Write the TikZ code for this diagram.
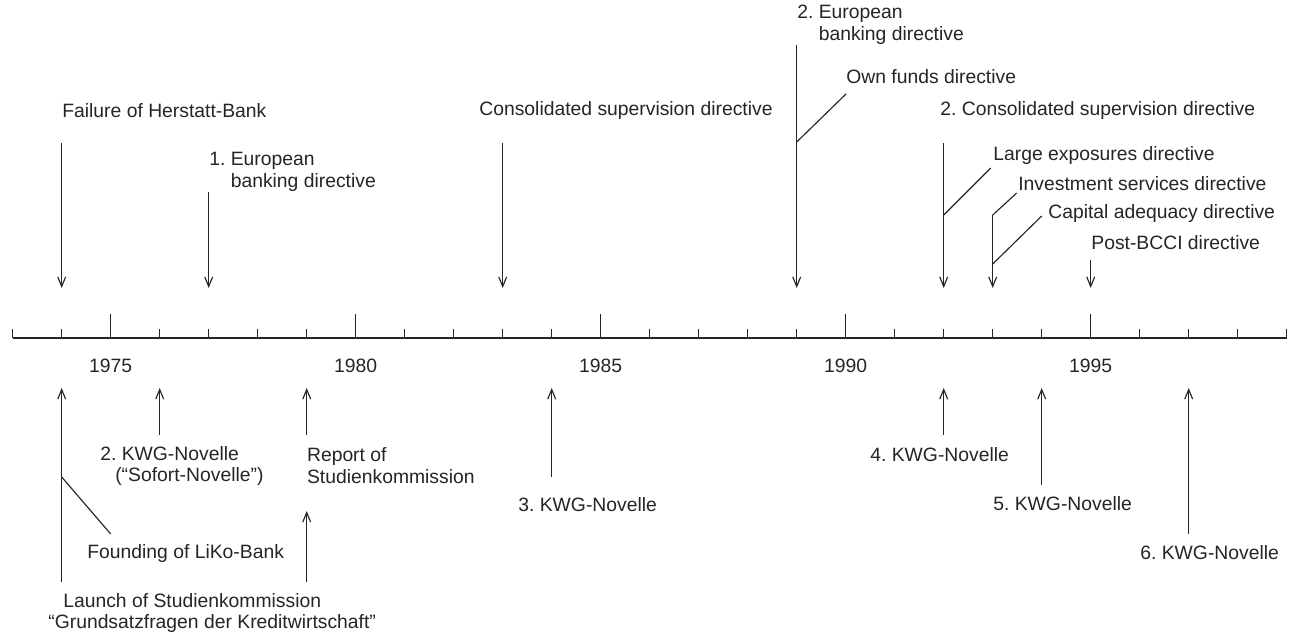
\documentclass[tikz,border=0pt]{standalone}
\usepackage{fontspec}
\setmainfont{Liberation Sans}
\usetikzlibrary{arrows.meta}
\definecolor{inkgray}{RGB}{38,36,36}
\tikzset{
  lbl/.style={anchor=west,inner sep=0pt,align=left,text=inkgray,font=\fontsize{11}{12.5}\selectfont},
  evt/.style={draw=inkgray,line width=0.65pt,-{Straight Barb[length=5.5pt,width=4.5pt]}},
  lead/.style={draw=inkgray,line width=0.65pt},
}

\begin{document}
\begin{tikzpicture}[x=0.02cm,y=-0.02cm]
\useasboundingbox (0,0) rectangle (1291,639);

% time axis
\draw[inkgray,line width=0.8pt] (12.7,338) -- (1286.7,338);
\foreach \yr in {1973,...,1999}
         {
\coordinate (up\yr) at ({12.7+(\yr-1973)*49},288);
\coordinate (dn\yr) at ({12.7+(\yr-1973)*49},388);
\draw[inkgray,line width=0.8pt] ({12.7+(\yr-1973)*49},338) -- ++(0,-9);
}
\foreach \yr in {1975,1980,...,1995}
         {
\draw[inkgray,line width=0.8pt] ({12.7+(\yr-1973)*49},338) -- ++(0,-24);
\node[lbl,anchor=center] (year\yr) at ({12.7+(\yr-1973)*49},366) {\yr};
}

% events above the axis
\node[lbl] (herstatt) at (62,111) {Failure of Herstatt-Bank};
\node[lbl] (ebd1) at (209,172) {1.\ European\\\hspace*{12.2pt}banking directive};
\node[lbl] (consol) at (479,111) {Consolidated supervision directive};
\node[lbl] (ebd2) at (797,25) {2.\ European\\\hspace*{12.2pt}banking directive};
\node[lbl] (ownfunds) at (846,77) {Own funds directive};
\node[lbl] (consol2) at (940,111) {2.\ Consolidated supervision directive};
\node[lbl] (largeexp) at (993,156) {Large exposures directive};
\node[lbl] (invserv) at (1018,184) {Investment services directive};
\node[lbl] (capadeq) at (1048,213) {Capital adequacy directive};
\node[lbl] (postbcci) at (1091,243) {Post-BCCI directive};

\foreach \yr/\ys in {1974/143,1977/192,1983/143,1989/45,1992/143,1993/215,1995/260}
  \draw[evt] (up\yr) ++(0,{\ys-288}) -- (up\yr);

\coordinate (br1989) at (796.7,142);
\coordinate (br1992) at (943.7,215);
\coordinate (br1993a) at (992.7,215);
\coordinate (br1993b) at (992.7,264);
\coordinate (ownfundsL) at (846,94);
\coordinate (largeexpL) at (990.7,168);
\coordinate (invservL) at (1016.7,193);
\coordinate (capadeqL) at (1041.7,216);
\draw[lead] (br1989) -- (ownfundsL);
\draw[lead] (br1992) -- (largeexpL);
\draw[lead] (br1993a) -- (invservL);
\draw[lead] (br1993b) -- (capadeqL);

% events below the axis
\node[lbl] (kwg2) at (100,466) {2.\ KWG-Novelle\\\hspace*{8.5pt}(“Sofort-Novelle”)};
\node[lbl] (report) at (306.7,466) {Report of\\Studienkommission};
\node[lbl] (kwg3) at (518,505) {3.\ KWG-Novelle};
\node[lbl] (kwg4) at (870,455) {4.\ KWG-Novelle};
\node[lbl] (kwg5) at (993,504) {5.\ KWG-Novelle};
\node[lbl] (kwg6) at (1140,553) {6.\ KWG-Novelle};
\node[lbl] (liko) at (87,553) {Founding of LiKo-Bank};
\node[lbl] (launch) at (48,613) {\hspace*{8.5pt}Launch of Studienkommission\\“Grundsatzfragen der Kreditwirtschaft”};

\foreach \yr/\ys in {1974/582,1976/435,1979/435,1984/477,1992/435,1994/485,1997/534}
  \draw[evt] (dn\yr) ++(0,{\ys-388}) -- (dn\yr);

\coordinate (rep1979) at (306.7,511);
\draw[evt] (306.7,582) -- (rep1979);

\coordinate (br1974) at (61.7,477);
\coordinate (likoL) at (110.7,534);
\draw[lead] (br1974) -- (likoL);

\end{tikzpicture}
\end{document}
